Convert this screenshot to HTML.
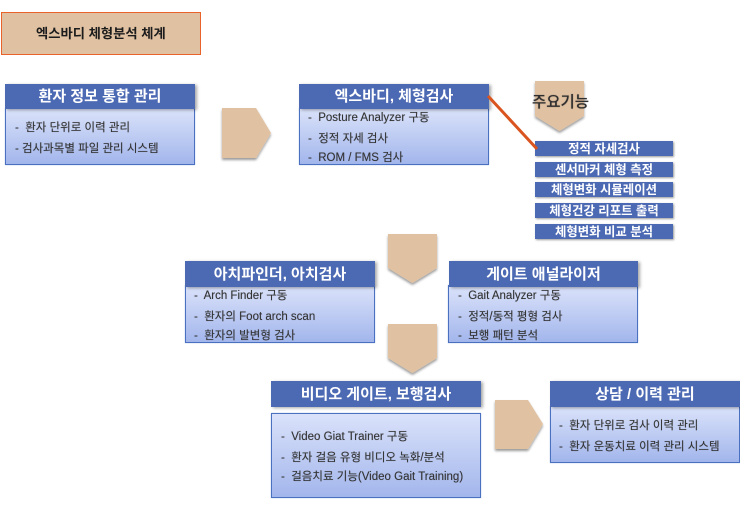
<!DOCTYPE html>
<html lang="ko">
<head>
<meta charset="utf-8">
<style>
html,body{margin:0;padding:0;background:#fff}
#c{position:relative;width:740px;height:508px;overflow:hidden;background:#fff;font-family:"Liberation Sans","Noto Sans CJK KR",sans-serif}
#c div{position:absolute;box-sizing:border-box;white-space:nowrap}
.h{background:#4c69b3;color:#fff;font-weight:700;font-size:15px;text-align:center;box-shadow:2px 1px 3px rgba(0,0,0,.35)}
.h span{position:relative;top:1px}
.b{background:linear-gradient(#dae2fa,#a3b6ec);border:1px solid #4a70c0;box-shadow:0 0 1px rgba(70,100,180,.5)}
.t{color:#333;font-size:11.5px;line-height:16px;height:16px;text-shadow:0 0 .6px rgba(40,40,40,.5)}
.s{left:535px;width:138px;height:15px;line-height:16px;background:#4c69b3;color:#fff;font-weight:700;font-size:12.4px;text-align:center;box-shadow:1px 1px 2px rgba(0,0,0,.4)}
svg{position:absolute;left:0;top:0}
</style>
</head>
<body>
<div id="c">
<div style="left:1px;top:12px;width:200px;height:43px;background:#e0c1a2;border:1px solid #e8622a;color:#1c1c1c;font-weight:700;font-size:13.3px;line-height:41px;padding-left:34px">엑스바디 체형분석 체계</div>

<div class="b" style="left:5px;top:108px;width:190px;height:57px"></div>
<div class="h" style="left:5px;top:84px;width:190px;height:25px;line-height:24px"><span>환자 정보 통합 관리</span></div>
<div class="t" style="left:15px;top:120px">-&nbsp; 환자 단위로 이력 관리</div>
<div class="t" style="left:15px;top:141px">- 검사과목별 파일 관리 시스템</div>

<div class="b" style="left:299px;top:108px;width:190px;height:57px"></div>
<div class="h" style="left:299px;top:84px;width:190px;height:25px;line-height:24px"><span>엑스바디, 체형검사</span></div>
<div class="t" style="left:308px;top:110px">-&nbsp; Posture Analyzer 구동</div>
<div class="t" style="left:308px;top:131px">-&nbsp; 정적 자세 검사</div>
<div class="t" style="left:308px;top:150px">-&nbsp; ROM / FMS 검사</div>

<div class="b" style="left:185px;top:285px;width:190px;height:58px"></div>
<div class="h" style="left:185px;top:261px;width:190px;height:26px;line-height:25px"><span>아치파인더, 아치검사</span></div>
<div class="t" style="left:194px;top:288px">-&nbsp; Arch Finder 구동</div>
<div class="t" style="left:194px;top:309px">-&nbsp; 환자의 Foot arch scan</div>
<div class="t" style="left:194px;top:328px">-&nbsp; 환자의 발변형 검사</div>

<div class="b" style="left:448px;top:285px;width:190px;height:58px"></div>
<div class="h" style="left:449px;top:261px;width:189px;height:26px;line-height:25px"><span>게이트 애널라이저</span></div>
<div class="t" style="left:458px;top:288px">-&nbsp; Gait Analyzer 구동</div>
<div class="t" style="left:458px;top:309px">-&nbsp; 정적/동적 평형 검사</div>
<div class="t" style="left:458px;top:328px">-&nbsp; 보행 패턴 분석</div>

<div class="h" style="left:271px;top:381px;width:210px;height:26px;line-height:25px"><span>비디오 게이트, 보행검사</span></div>
<div class="b" style="left:271px;top:413px;width:210px;height:85px"></div>
<div class="t" style="left:281px;top:429px">-&nbsp; Video Giat Trainer 구동</div>
<div class="t" style="left:281px;top:450px">-&nbsp; 환자 걸음 유형 비디오 녹화/분석</div>
<div class="t" style="left:281px;top:469px">-&nbsp; 걸음치료 기능(Video Gait Training)</div>

<div class="b" style="left:550px;top:406px;width:190px;height:57px"></div>
<div class="h" style="left:550px;top:381px;width:190px;height:26px;line-height:25px"><span>상담 / 이력 관리</span></div>
<div class="t" style="left:559px;top:418px">-&nbsp; 환자 단위로 검사 이력 관리</div>
<div class="t" style="left:559px;top:439px">-&nbsp; 환자 운동치료 이력 관리 시스템</div>

<svg width="740" height="508" viewBox="0 0 740 508">
<defs><filter id="d" x="-20%" y="-20%" width="140%" height="140%"><feDropShadow dx="0" dy="2" stdDeviation="1.3" flood-color="#000" flood-opacity=".4"/></filter></defs>
<g fill="#e0c1a2" filter="url(#d)">
<polygon points="222,108 256,108 271,133 256,158 222,158"/>
<polygon points="535,81 584,81 584,116 559.5,131 535,116"/>
<polygon points="388,234 437,234 437,268 412.5,283 388,268"/>
<polygon points="388,324 437,324 437,358 412.5,373 388,358"/>
<polygon points="495,400 528,400 543,424 528,449 495,449"/>
</g>
</svg>

<div style="left:532px;top:93px;color:#2f2f2f;font-size:15.5px;font-weight:500;line-height:20px;text-shadow:0 0 1px rgba(40,40,40,.5)">주요기능</div>

<div class="s" style="top:141px">정적 자세검사</div>
<div class="s" style="top:162px">센서마커 체형 측정</div>
<div class="s" style="top:182px">체형변화 시뮬레이션</div>
<div class="s" style="top:203px">체형건강 리포트 출력</div>
<div class="s" style="top:224px">체형변화 비교 분석</div>

<svg width="740" height="508" viewBox="0 0 740 508">
<line x1="488" y1="96" x2="537" y2="149" stroke="#d9541e" stroke-width="3"/>
</svg>
</div>
</body>
</html>
